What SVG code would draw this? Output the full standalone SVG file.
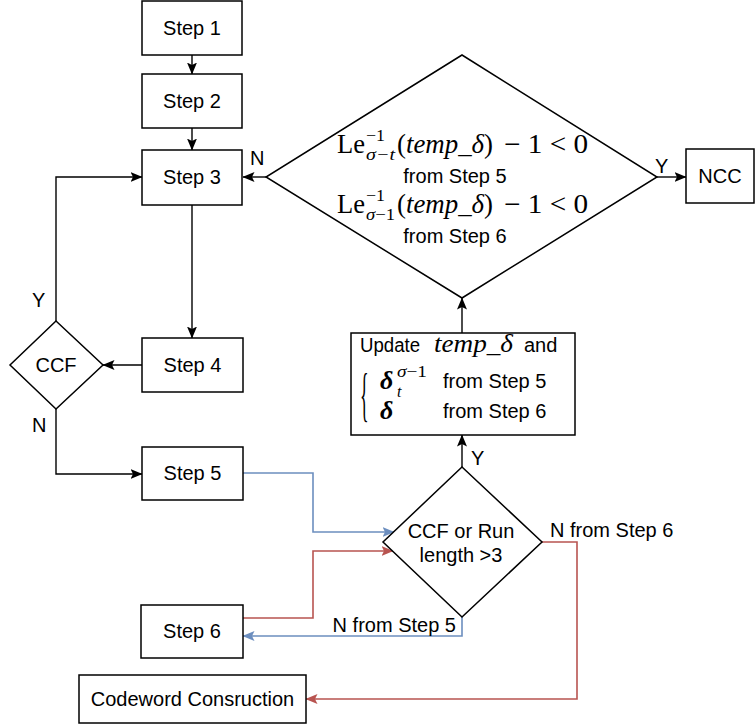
<svg xmlns="http://www.w3.org/2000/svg" width="755" height="726" viewBox="0 0 755 726">
  <style>
    .box { fill: #ffffff; stroke: #000000; stroke-width: 1.5; }
    .lbl { font-family: "Liberation Sans", Arial, sans-serif; font-size: 20px; fill: #000000; }
    .mid { text-anchor: middle; }
    .math { font-family: "Liberation Serif", "Times New Roman", serif; fill: #000000; }
    .it { font-style: italic; }
    .edge { fill: none; stroke: #000000; stroke-width: 1.4; }
    .blue { fill: none; stroke: #6c8ebf; stroke-width: 1.6; }
    .red { fill: none; stroke: #b85450; stroke-width: 1.6; }
  </style>
  <defs>
    <marker id="arrow" viewBox="0 0 12 10" refX="11.5" refY="5" markerWidth="12" markerHeight="10" markerUnits="userSpaceOnUse" orient="auto">
      <path d="M0,0 L12,5 L0,10 L2.5,5 z" fill="#000000"/>
    </marker>
    <marker id="arrowBlue" viewBox="0 0 12 10" refX="11.5" refY="5" markerWidth="12" markerHeight="10" markerUnits="userSpaceOnUse" orient="auto">
      <path d="M0,0 L12,5 L0,10 L2.5,5 z" fill="#6c8ebf"/>
    </marker>
    <marker id="arrowRed" viewBox="0 0 12 10" refX="11.5" refY="5" markerWidth="12" markerHeight="10" markerUnits="userSpaceOnUse" orient="auto">
      <path d="M0,0 L12,5 L0,10 L2.5,5 z" fill="#b85450"/>
    </marker>
  </defs>

  <rect width="755" height="726" fill="#ffffff"/>

  <!-- connectors -->
  <g id="connectors">
    <path class="edge" d="M192,55 L192,74" marker-end="url(#arrow)"/>
    <path class="edge" d="M192,128 L192,150" marker-end="url(#arrow)"/>
    <path class="edge" d="M192,205 L192,338" marker-end="url(#arrow)"/>
    <path class="edge" d="M142,365 L103,365" marker-end="url(#arrow)"/>
    <path class="edge" d="M56,321 L56,177 L142,177" marker-end="url(#arrow)"/>
    <path class="edge" d="M56,409 L56,474 L142,474" marker-end="url(#arrow)"/>
    <path class="edge" d="M266,177 L243,177" marker-end="url(#arrow)"/>
    <path class="edge" d="M657,177 L686,177" marker-end="url(#arrow)"/>
    <path class="edge" d="M462,333 L462,298" marker-end="url(#arrow)"/>
    <path class="edge" d="M462,467 L462,435" marker-end="url(#arrow)"/>
    <path class="blue" d="M243,473 L313,473 L313,532 L394,532" marker-end="url(#arrowBlue)"/>
    <path class="red" d="M243,618 L313,618 L313,551 L393,551" marker-end="url(#arrowRed)"/>
    <path class="blue" d="M462,617 L462,636 L243,636" marker-end="url(#arrowBlue)"/>
    <path class="red" d="M542,542 L577,542 L577,699 L306,699" marker-end="url(#arrowRed)"/>

    <!-- branch labels -->
    <text class="lbl" x="250" y="165" font-size="18">N</text>
    <text class="lbl" x="655" y="173" font-size="18">Y</text>
    <text class="lbl" x="471" y="465" font-size="18">Y</text>
    <text class="lbl" x="32" y="307" font-size="18">Y</text>
    <text class="lbl" x="32" y="432" font-size="18">N</text>
    <text class="lbl" x="456" y="632" text-anchor="end" font-size="20.5">N from Step 5</text>
    <text class="lbl" x="550" y="537" font-size="20.5">N from Step 6</text>
  </g>

  <!-- process steps -->
  <g id="step1">
    <rect class="box" x="142" y="1" width="100" height="54"/>
    <text class="lbl mid" x="192" y="35">Step 1</text>
  </g>
  <g id="step2">
    <rect class="box" x="142" y="74" width="100" height="54"/>
    <text class="lbl mid" x="192" y="108">Step 2</text>
  </g>
  <g id="step3">
    <rect class="box" x="142" y="150" width="100" height="55"/>
    <text class="lbl mid" x="192" y="184">Step 3</text>
  </g>
  <g id="step4">
    <rect class="box" x="142" y="338" width="101" height="54"/>
    <text class="lbl mid" x="192.5" y="372">Step 4</text>
  </g>
  <g id="step5">
    <rect class="box" x="142" y="447" width="101" height="53"/>
    <text class="lbl mid" x="192.5" y="480">Step 5</text>
  </g>
  <g id="step6">
    <rect class="box" x="141" y="605" width="102" height="53"/>
    <text class="lbl mid" x="192" y="638">Step 6</text>
  </g>
  <g id="codeword">
    <rect class="box" x="79" y="675" width="227" height="48"/>
    <text class="lbl mid" x="192.5" y="706" font-size="20.5">Codeword Consruction</text>
  </g>
  <g id="ncc">
    <rect class="box" x="686" y="149" width="68" height="54"/>
    <text class="lbl mid" x="720" y="183">NCC</text>
  </g>

  <!-- CCF decision -->
  <g id="ccf">
    <polygon class="box" points="56,321 103,365 56,409 10,365"/>
    <text class="lbl mid" x="56" y="372">CCF</text>
  </g>

  <!-- stopping test on the left-side inverse -->
  <g id="check">
    <polygon class="box" points="462,55 657,177 462,298 266,177"/>
    <!-- line 1 -->
    <text class="math" x="337" y="153" font-size="27" textLength="28" lengthAdjust="spacingAndGlyphs">Le</text>
    <text class="math" x="366" y="141" font-size="17" textLength="19" lengthAdjust="spacingAndGlyphs">−1</text>
    <text class="math it" x="366" y="160" font-size="17" textLength="29" lengthAdjust="spacingAndGlyphs">σ−t</text>
    <text class="math" x="397" y="153" font-size="27" textLength="96" lengthAdjust="spacingAndGlyphs">(<tspan font-style="italic">temp</tspan>_<tspan font-style="italic">δ</tspan>)</text>
    <text class="math" x="504" y="153" font-size="27" textLength="84" lengthAdjust="spacingAndGlyphs">− 1 &lt; 0</text>
    <text class="lbl mid" x="455" y="183" font-size="20.5">from Step 5</text>
    <!-- line 2 -->
    <text class="math" x="337" y="213" font-size="27" textLength="28" lengthAdjust="spacingAndGlyphs">Le</text>
    <text class="math" x="366" y="201" font-size="17" textLength="19" lengthAdjust="spacingAndGlyphs">−1</text>
    <text class="math" x="366" y="220" font-size="17" textLength="29" lengthAdjust="spacingAndGlyphs"><tspan font-style="italic">σ</tspan>−1</text>
    <text class="math" x="397" y="213" font-size="27" textLength="96" lengthAdjust="spacingAndGlyphs">(<tspan font-style="italic">temp</tspan>_<tspan font-style="italic">δ</tspan>)</text>
    <text class="math" x="504" y="213" font-size="27" textLength="84" lengthAdjust="spacingAndGlyphs">− 1 &lt; 0</text>
    <text class="lbl mid" x="455" y="243" font-size="20.5">from Step 6</text>
  </g>

  <!-- update step -->
  <g id="update">
    <rect class="box" x="351" y="333" width="224" height="102"/>
    <text class="lbl" x="360" y="352" textLength="60" lengthAdjust="spacingAndGlyphs">Update</text>
    <text class="math it" x="434" y="352" font-size="25" textLength="79" lengthAdjust="spacingAndGlyphs">temp<tspan font-style="normal">_</tspan>δ</text>
    <text class="lbl" x="524" y="352">and</text>
    <text class="math" x="0" y="0" font-size="24" transform="translate(360,414) scale(0.75,2.5)">{</text>
    <text class="math it" x="380" y="389" font-size="26" font-weight="bold">δ</text>
    <text class="math it" x="397" y="377" font-size="16" textLength="30" lengthAdjust="spacingAndGlyphs">σ<tspan font-style="normal">−1</tspan></text>
    <text class="math it" x="397" y="397" font-size="16">t</text>
    <text class="lbl" x="443" y="388" font-size="20.5">from Step 5</text>
    <text class="math it" x="380" y="419" font-size="26" font-weight="bold">δ</text>
    <text class="lbl" x="443" y="418" font-size="20.5">from Step 6</text>
  </g>

  <!-- run-length decision -->
  <g id="runlength">
    <polygon class="box" points="462,467 542,542 462,617 383,542"/>
    <text class="lbl mid" x="461" y="538" font-size="20.5">CCF or Run</text>
    <text class="lbl mid" x="461" y="562" font-size="20.5">length &gt;3</text>
  </g>
</svg>
